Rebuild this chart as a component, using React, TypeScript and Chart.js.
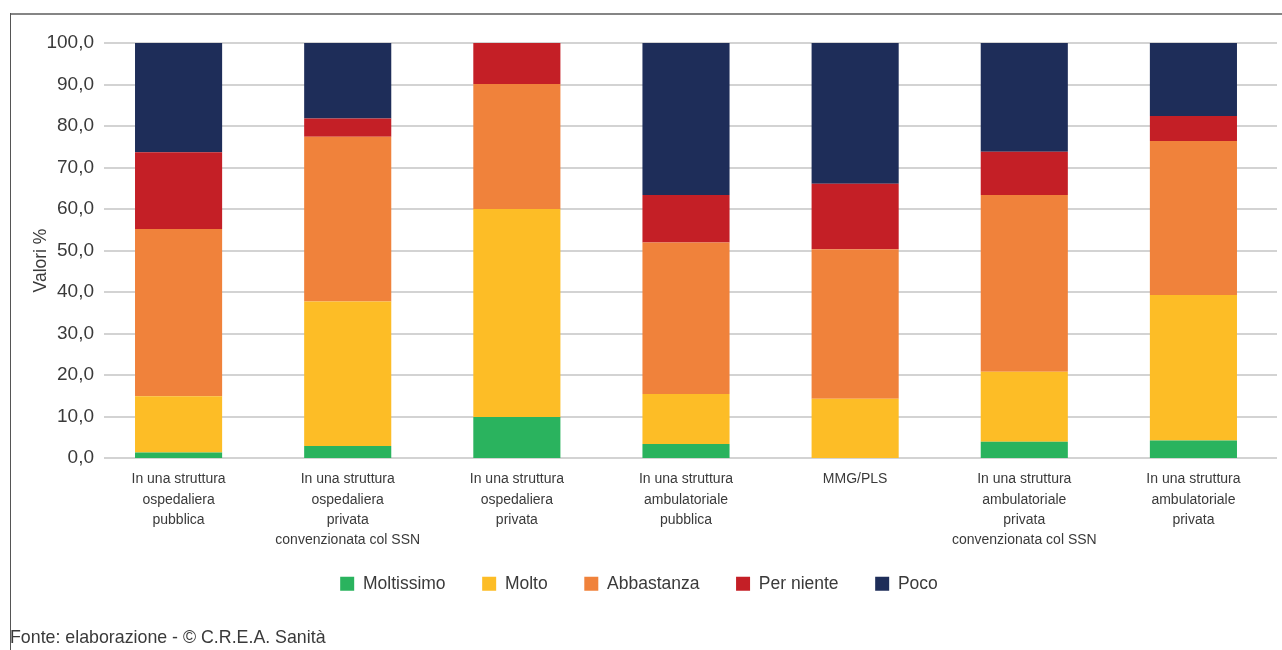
import React, { useEffect, useRef } from 'react';
import { Chart, registerables } from 'chart.js';

Chart.register(...registerables);

// ---------- DATA ----------
const categories: string[][] = [
  ['In una struttura', 'ospedaliera', 'pubblica'],
  ['In una struttura', 'ospedaliera', 'privata', 'convenzionata col SSN'],
  ['In una struttura', 'ospedaliera', 'privata'],
  ['In una struttura', 'ambulatoriale', 'pubblica'],
  ['MMG/PLS'],
  ['In una struttura', 'ambulatoriale', 'privata', 'convenzionata col SSN'],
  ['In una struttura', 'ambulatoriale', 'privata'],
];

const moltissimo = [1.3, 2.9, 9.9, 3.4, 0.0, 3.9, 4.2];
const molto = [13.6, 34.8, 50.1, 12.0, 14.3, 16.9, 35.1];
const abbastanza = [40.3, 39.7, 30.1, 36.5, 36.0, 42.6, 37.1];
const perNiente = [18.5, 4.4, 9.9, 11.5, 15.8, 10.4, 6.0];
const poco = [26.3, 18.2, 0.0, 36.6, 33.9, 26.2, 17.6];

const seriesNames = ['Moltissimo', 'Molto', 'Abbastanza', 'Per niente', 'Poco'];
const seriesValues = [moltissimo, molto, abbastanza, perNiente, poco];
const seriesColors = ['#2AB35E', '#FDBD26', '#F0823B', '#C41F26', '#1E2D59'];

const yTickLabels = ['0,0', '10,0', '20,0', '30,0', '40,0', '50,0', '60,0', '70,0', '80,0', '90,0', '100,0'];
const yAxisTitle = 'Valori %';
const sourceNote = 'Fonte: elaborazione - © C.R.E.A. Sanità';

// ---------- STYLE ----------
const FONT = "'Liberation Sans', Arial, sans-serif";
const TEXT = '#3a3a3a';

const gridPlugin = {
  id: 'customGrid',
  beforeDatasetsDraw(chart: any) {
    const { ctx, chartArea, scales } = chart;
    const y = scales.y;
    ctx.save();
    ctx.strokeStyle = '#d3d3d3';
    ctx.lineWidth = 2;
    y.ticks.forEach((t: any) => {
      const py = Math.round(y.getPixelForValue(t.value));
      ctx.beginPath();
      ctx.moveTo(chartArea.left + 10, py);
      ctx.lineTo(chartArea.right - 1, py);
      ctx.stroke();
    });
    ctx.restore();
  },
};

const yTitlePlugin = {
  id: 'yTitle',
  afterDraw(chart: any) {
    const { ctx, chartArea } = chart;
    ctx.save();
    ctx.translate(41, (chartArea.top + chartArea.bottom) / 2 + 10);
    ctx.rotate(-Math.PI / 2);
    ctx.font = `17.5px ${FONT}`;
    ctx.fillStyle = TEXT;
    ctx.textAlign = 'center';
    ctx.textBaseline = 'middle';
    ctx.fillText(yAxisTitle, 0, 0);
    ctx.restore();
  },
};

export default function App() {
  const canvasRef = useRef<HTMLCanvasElement | null>(null);

  useEffect(() => {
    if (!canvasRef.current) return;
    const chart = new Chart(canvasRef.current, {
      type: 'bar',
      data: {
        labels: categories,
        datasets: seriesNames.map((name, i) => ({
          label: name,
          data: seriesValues[i],
          backgroundColor: seriesColors[i],
          borderWidth: 0,
          categoryPercentage: 1,
          barPercentage: 0.515,
        })),
      },
      plugins: [gridPlugin, yTitlePlugin],
      options: {
        animation: false,
        responsive: false,
        maintainAspectRatio: false,
        layout: { padding: { top: 43, right: 4, left: 0, bottom: 47.5 } },
        plugins: {
          tooltip: { enabled: false },
          legend: {
            position: 'bottom',
            labels: {
              boxWidth: 14,
              boxHeight: 14,
              padding: 22,
              color: TEXT,
              font: { family: FONT, size: 17.5 },
              generateLabels: (c: any) => {
                const items = Chart.defaults.plugins.legend.labels.generateLabels(c);
                return items.map((l: any, i: number) =>
                  i < items.length - 1 ? { ...l, text: l.text + '\u00a0\u00a0\u00a0' } : l
                );
              },
            },
          },
        },
        scales: {
          x: {
            stacked: true,
            grid: { display: false, drawTicks: false },
            border: { display: false },
            ticks: {
              autoSkip: false,
              maxRotation: 0,
              minRotation: 0,
              padding: 11,
              color: TEXT,
              font: { family: FONT, size: 14, lineHeight: 1.46 },
            },
            afterFit(scale: any) {
              scale.height = 95;
            },
          },
          y: {
            stacked: true,
            min: 0,
            max: 100,
            grid: { display: false, drawTicks: false },
            border: { display: false },
            ticks: {
              stepSize: 10,
              padding: 0,
              color: TEXT,
              font: { family: FONT, size: 19 },
              callback: (_v: any, i: number) => yTickLabels[i],
            },
            title: { display: false },
            afterFit(scale: any) {
              scale.width = 94;
            },
          },
        },
      },
    });
    return () => chart.destroy();
  }, []);

  return (
    <div style={{ position: 'fixed', left: 0, top: 0, width: 1282, height: 650, background: '#fff', overflow: 'hidden' }}>
      <div style={{ position: 'absolute', left: 10, top: 13, right: 0, height: 2, background: '#858585' }} />
      <div style={{ position: 'absolute', left: 10, top: 13, bottom: 0, width: 1, background: '#555' }} />
      <canvas ref={canvasRef} width={1282} height={650} style={{ position: 'absolute', left: 0, top: 0, width: 1282, height: 650 }} />
      <div
        style={{
          position: 'absolute',
          left: 10,
          top: 627,
          fontFamily: FONT,
          fontSize: 17.8,
          lineHeight: '20px',
          color: TEXT,
          whiteSpace: 'nowrap',
        }}
      >
        {sourceNote}
      </div>
    </div>
  );
}
